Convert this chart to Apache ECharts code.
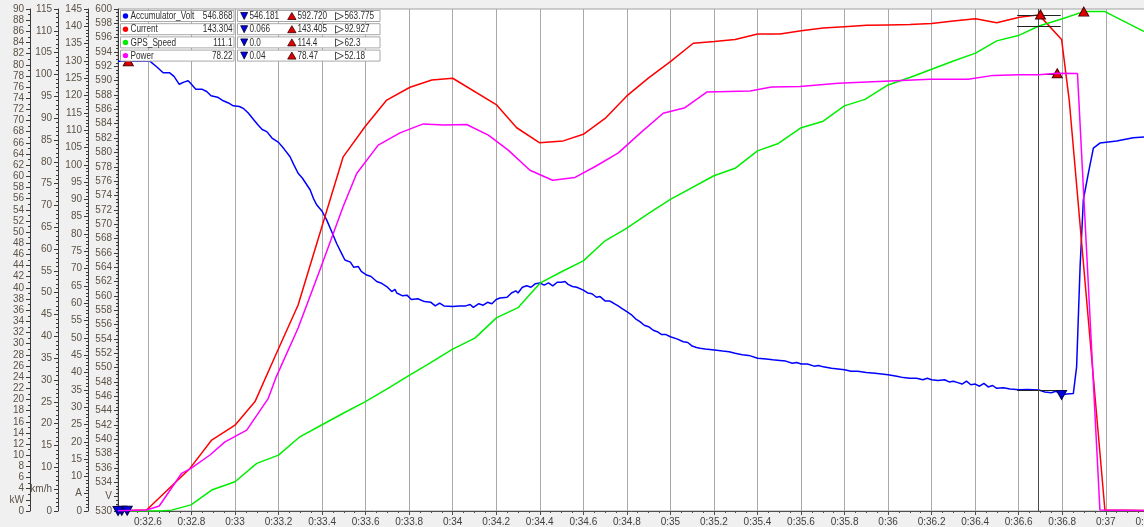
<!DOCTYPE html>
<html>
<head>
<meta charset="utf-8">
<title>Accumulator / Current / GPS Speed / Power</title>
<script src="https://cdn.jsdelivr.net/npm/echarts@6/dist/echarts.min.js"></script>
<style>
  html, body { margin: 0; padding: 0; background: #f0f0f0; }
  #chart { width: 1144px; height: 527px; }
</style>
</head>
<body>
<div id="chart"></div>
<script>
// ---- logged channels: [time in s, value] ----
const voltPoints = [
  [32.463, 592.72], [32.51, 592.72], [32.61, 592.7], [32.64, 591.95], [32.67, 591.1], [32.70, 591.1],
  [32.72, 590.6], [32.744, 589.5], [32.765, 589.8], [32.785, 590.0], [32.80, 589.5], [32.82, 588.8],
  [32.85, 588.8], [32.87, 588.5], [32.89, 587.9], [32.92, 587.7], [32.946, 587.2], [32.97, 586.9],
  [32.992, 586.5], [33.02, 586.4], [33.04, 586.1], [33.061, 585.5], [33.085, 584.6], [33.107, 583.8],
  [33.125, 583.2], [33.146, 582.9], [33.17, 582.0], [33.2, 581.4], [33.225, 580.5], [33.253, 579.4],
  [33.27, 578.3], [33.29, 577.1], [33.31, 576.4], [33.345, 574.8], [33.36, 573.6], [33.375, 572.7],
  [33.40, 571.8], [33.421, 570.6], [33.445, 568.9], [33.467, 567.3], [33.49, 565.9], [33.505, 565.0],
  [33.53, 564.7], [33.545, 564.0], [33.566, 564.1], [33.58, 563.4], [33.605, 562.9], [33.625, 562.7],
  [33.651, 562.0], [33.67, 561.8], [33.697, 561.3], [33.72, 560.6], [33.735, 560.9], [33.743, 560.4],
  [33.77, 560.0], [33.79, 560.1], [33.81, 559.5], [33.84, 559.6], [33.87, 559.2], [33.90, 559.1],
  [33.92, 558.6], [33.94, 559.0], [33.96, 558.6], [34.00, 558.5], [34.03, 558.6], [34.06, 558.6],
  [34.08, 558.8], [34.095, 558.4], [34.12, 558.9], [34.14, 558.7], [34.16, 559.1], [34.18, 558.9],
  [34.20, 559.5], [34.217, 559.7], [34.25, 559.8], [34.27, 560.4], [34.29, 560.7], [34.30, 560.4],
  [34.32, 561.2], [34.34, 561.4], [34.36, 561.2], [34.38, 561.7], [34.40, 561.8], [34.42, 561.5],
  [34.44, 561.8], [34.46, 561.4], [34.48, 561.9], [34.50, 561.9], [34.516, 562.0], [34.53, 561.6],
  [34.55, 561.3], [34.57, 561.2], [34.60, 560.8], [34.62, 560.4], [34.64, 560.3], [34.66, 559.8],
  [34.677, 559.9], [34.70, 559.3], [34.72, 559.3], [34.738, 559.0], [34.76, 558.6], [34.78, 558.2],
  [34.80, 557.8], [34.82, 557.4], [34.84, 556.8], [34.86, 556.4], [34.88, 555.9], [34.90, 555.7],
  [34.921, 555.2], [34.94, 555.0], [34.96, 554.6], [34.98, 554.6], [35.0, 554.3], [35.03, 554.0],
  [35.059, 553.6], [35.08, 553.5], [35.10, 553.0], [35.12, 552.8], [35.136, 552.7], [35.16, 552.6],
  [35.202, 552.45], [35.24, 552.3], [35.27, 552.2], [35.297, 552.0], [35.33, 551.8], [35.36, 551.7],
  [35.401, 551.3], [35.44, 551.2], [35.47, 551.1], [35.503, 551.0], [35.53, 550.9], [35.56, 550.6],
  [35.58, 550.7], [35.601, 550.5], [35.63, 550.5], [35.66, 550.2], [35.68, 550.3], [35.702, 550.1],
  [35.74, 549.9], [35.77, 549.8], [35.80, 549.7], [35.83, 549.5], [35.86, 549.5], [35.90, 549.3],
  [35.94, 549.2], [35.97, 549.1], [36.0, 549.0], [36.04, 548.8], [36.07, 548.6], [36.1, 548.5],
  [36.13, 548.5], [36.16, 548.3], [36.18, 548.5], [36.2, 548.3], [36.23, 548.2], [36.26, 548.3],
  [36.28, 548.0], [36.3, 548.1], [36.32, 547.9], [36.34, 547.7], [36.36, 548.1], [36.38, 547.6],
  [36.40, 547.7], [36.42, 547.4], [36.44, 547.8], [36.46, 547.3], [36.48, 547.5], [36.499, 547.1],
  [36.53, 547.2], [36.56, 547.0], [36.603, 546.9], [36.64, 546.95], [36.693, 546.868], [36.72, 546.6],
  [36.75, 546.5], [36.77, 546.7], [36.797, 546.181], [36.82, 546.3], [36.851, 546.4], [36.866, 550.1],
  [36.882, 564.1], [36.897, 573.4], [36.92, 577.1], [36.943, 580.6], [36.973, 581.3], [37.05, 581.6],
  [37.126, 582.05], [37.21, 582.2]
];

const currentPoints = [
  [32.463, 0.07], [32.594, 0.3], [32.793, 12.3], [32.893, 20.5], [33.0, 24.8], [33.092, 31.6],
  [33.19, 45.5], [33.29, 59.5], [33.39, 80.2], [33.497, 102.3], [33.597, 111.0], [33.697, 118.7],
  [33.804, 122.4], [33.904, 124.5], [34.0, 125.0], [34.202, 117.3], [34.294, 110.7], [34.398, 106.4],
  [34.508, 106.9], [34.6, 108.8], [34.70, 113.4], [34.8, 119.9], [34.9, 125.1], [35.0, 129.8],
  [35.105, 135.1], [35.202, 135.6], [35.297, 136.2], [35.401, 137.8], [35.503, 137.8], [35.601, 138.7],
  [35.702, 139.5], [35.799, 139.9], [35.902, 140.3], [36.0, 140.4], [36.1, 140.5], [36.2, 140.8],
  [36.3, 141.5], [36.402, 142.2], [36.499, 141.0], [36.603, 142.6], [36.693, 143.304], [36.70, 143.405],
  [36.797, 136.2], [36.832, 118.7], [36.996, 0.3], [37.21, 0.1]
];

const speedPoints = [
  [32.463, 0.0], [32.656, 0.0], [32.709, 0.2], [32.798, 1.4], [32.893, 4.8], [33.0, 6.7],
  [33.1, 10.9], [33.2, 12.8], [33.298, 17.0], [33.398, 19.7], [33.497, 22.4], [33.597, 25.0],
  [33.697, 27.9], [33.804, 31.2], [33.88, 33.4], [34.0, 37.1], [34.102, 39.6], [34.202, 44.3],
  [34.301, 46.6], [34.401, 52.2], [34.5, 54.8], [34.6, 57.3], [34.70, 61.9], [34.8, 64.8],
  [34.9, 68.2], [35.0, 71.4], [35.2, 76.8], [35.297, 78.5], [35.4, 82.5], [35.496, 84.2],
  [35.601, 87.8], [35.702, 89.3], [35.799, 92.8], [35.894, 94.3], [36.0, 97.6], [36.1, 99.3],
  [36.2, 101.2], [36.3, 103.1], [36.402, 104.9], [36.499, 107.7], [36.603, 109.0], [36.693, 111.1],
  [36.797, 112.7], [36.899, 114.4], [36.996, 114.4], [37.17, 110.0], [37.21, 109.1]
];

const powerPoints = [
  [32.463, 0.04], [32.594, 0.18], [32.652, 0.9], [32.755, 6.76], [32.798, 7.65], [32.885, 10.04],
  [32.954, 12.4], [33.054, 14.5], [33.153, 20.2], [33.19, 24.1], [33.29, 32.8], [33.39, 43.2],
  [33.497, 54.6], [33.559, 60.5], [33.658, 65.6], [33.758, 67.8], [33.865, 69.4], [33.957, 69.2],
  [34.064, 69.3], [34.164, 67.4], [34.255, 64.7], [34.355, 61.1], [34.459, 59.3], [34.562, 59.8],
  [34.661, 61.9], [34.761, 64.2], [34.860, 67.7], [34.967, 71.3], [35.067, 72.3], [35.167, 75.1],
  [35.366, 75.3], [35.465, 76.0], [35.595, 76.1], [35.771, 76.7], [36.009, 77.1], [36.193, 77.4],
  [36.368, 77.4], [36.483, 78.1], [36.60, 78.2], [36.693, 78.22], [36.777, 78.47], [36.87, 78.45],
  [36.973, 0.18], [37.21, 0.1]
];

// ---- channel table: names, cursor readout, min / max / average ----
const channelNames = ['Accumulator_Volt', 'Current', 'GPS_Speed', 'Power'];
const channelUnits = ['V', 'A', 'km/h', 'kW'];
const cursorValues = [546.868, 143.304, 111.1, 78.22];
const minValues = [546.181, 0.066, 0.0, 0.04];
const maxValues = [592.720, 143.405, 114.4, 78.47];
const avgValues = [563.775, 92.927, 62.3, 52.18];
const decimals = [3, 3, 1, 2];
const minTimes = [36.797, 32.48, 32.463, 32.505];
const maxTimes = [32.51, 36.70, 36.899, 36.777];
const cursorTime = 36.693;

// axis scales for each channel: [min, max, step]
const axisRanges = [[530, 600, 2], [0, 145, 5], [0, 115, 5], [0, 90, 2]];

const seriesPoints = [voltPoints, currentPoints, speedPoints, powerPoints];
const colors = ['#0000ff', '#ff0000', '#00ee00', '#ff00ff'];

const FONT = '"Liberation Sans", Arial, sans-serif';
const fmtTime = v => {
  const r = Math.round(v * 10) / 10;
  return '0:' + (Math.abs(r - Math.round(r)) < 1e-9 ? Math.round(r).toString() : r.toFixed(1));
};

// y axes, one per channel, stacked to the left of the plot
const axisOffsets = [0, 30, 60, 88];
const minorSplits = [4, 5, 5, 2];
const yAxes = axisRanges.map((r, i) => ({
  type: 'value',
  position: 'left',
  offset: axisOffsets[i],
  min: r[0], max: r[1], interval: r[2],
  axisLine: { show: true, lineStyle: { color: '#3a3a3a', width: 1 } },
  axisTick: { show: true, length: 4, lineStyle: { color: '#3a3a3a' } },
  minorTick: { show: true, splitNumber: minorSplits[i], length: 2, lineStyle: { color: '#3a3a3a' } },
  splitLine: { show: false },
  axisLabel: {
    margin: 6, fontSize: 10, fontFamily: FONT, color: '#5c5346',
    formatter: v => (Math.abs(v - (r[0] + r[2])) < 1e-9 ? channelUnits[i] : String(v))
  }
}));

// channel series with extreme-value markers and cursor readout ticks
const series = seriesPoints.map((pts, i) => {
  const s = {
    name: channelNames[i],
    type: 'line',
    yAxisIndex: i,
    data: pts,
    showSymbol: false,
    symbol: 'none',
    lineStyle: { color: colors[i], width: 1.5 },
    itemStyle: { color: colors[i] },
    z: 2 + i,
    markPoint: {
      silent: true,
      label: { show: false },
      data: [
        { coord: [maxTimes[i], maxValues[i]], symbol: 'triangle', symbolSize: [10, 9],
          itemStyle: { color: '#e00000', borderColor: '#4a0000', borderWidth: 1 } },
        { coord: [minTimes[i], minValues[i]], symbol: 'triangle', symbolSize: [10, 9], symbolRotate: 180,
          itemStyle: { color: '#0000e0', borderColor: '#00004a', borderWidth: 1 } }
      ]
    },
    markLine: {
      silent: true,
      symbol: ['none', 'none'],
      label: { show: false },
      lineStyle: { color: '#202020', width: 1, type: 'solid' },
      data: [[
        { coord: [cursorTime - 0.1, cursorValues[i]] },
        { coord: [cursorTime + 0.1, cursorValues[i]] }
      ]]
    }
  };
  if (i === 0) {
    s.markLine.data.push({ xAxis: cursorTime, lineStyle: { color: '#4a4a4a', width: 1, type: 'solid' } });
  }
  return s;
});

// channel table in the top-left corner of the plot, drawn above everything else
const TABLE_Z = 100;
const tableItems = [];
const rowTop = 10.5, rowStep = 13.2, rowH = 11;
const textFont = '10px "Liberation Sans", Arial, sans-serif';
const cellText = (x, y, text, align) => ({
  type: 'text', x: x, y: y, scaleX: 0.82, z: TABLE_Z + 2,
  style: { x: 0, y: 0, text: text, font: textFont, fill: '#2e2e2e', align: align || 'left', verticalAlign: 'middle' }
});
channelNames.forEach((name, i) => {
  const y = rowTop + i * rowStep;
  const cy = y + rowH / 2 + 0.5;
  tableItems.push(
    { type: 'rect', z: TABLE_Z, shape: { x: 120.5, y: y, width: 113.5, height: rowH },
      style: { fill: '#ffffff', stroke: '#a8a8a8', lineWidth: 1 } },
    { type: 'rect', z: TABLE_Z, shape: { x: 237.5, y: y, width: 142.5, height: rowH },
      style: { fill: '#ffffff', stroke: '#a8a8a8', lineWidth: 1 } },
    { type: 'circle', z: TABLE_Z + 1, shape: { cx: 125.5, cy: y + rowH / 2, r: 2.7 }, style: { fill: colors[i] } },
    cellText(130.5, cy, name),
    cellText(232.5, cy, cursorValues[i].toFixed(decimals[i]), 'right'),
    { type: 'polygon', z: TABLE_Z + 1, shape: { points: [[240.7, y + 2], [247.7, y + 2], [244.2, y + 9]] },
      style: { fill: '#0000e0', stroke: '#00003a', lineWidth: 0.8 } },
    cellText(249.5, cy, minValues[i].toFixed(decimals[i])),
    { type: 'polygon', z: TABLE_Z + 1, shape: { points: [[287.7, y + 9], [296, y + 9], [291.85, y + 2]] },
      style: { fill: '#e00000', stroke: '#3a0000', lineWidth: 0.8 } },
    cellText(297.5, cy, maxValues[i].toFixed(decimals[i])),
    { type: 'polygon', z: TABLE_Z + 1, shape: { points: [[335.5, y + 2], [335.5, y + 9.5], [343.3, y + 5.75]] },
      style: { fill: '#ffffff', stroke: '#202020', lineWidth: 0.8 } },
    cellText(344.5, cy, avgValues[i].toFixed(decimals[i]))
  );
});

const chart = echarts.init(document.getElementById('chart'), null, { renderer: 'canvas' });
chart.setOption({
  animation: false,
  backgroundColor: '#f0f0f0',
  grid: {
    left: 118, right: -7.5, top: 9, bottom: 16,
    containLabel: false,
    outerBoundsMode: 'none',
    show: true, backgroundColor: '#ffffff', borderColor: '#a0a0a0', borderWidth: 1
  },
  xAxis: {
    type: 'value',
    min: 32.4626, max: 37.21,
    minInterval: 0.2, maxInterval: 0.2,
    axisLine: { show: true, onZero: false, lineStyle: { color: '#505050' } },
    axisTick: { show: true, length: 4, lineStyle: { color: '#505050' } },
    minorTick: { show: true, splitNumber: 4, length: 2, lineStyle: { color: '#505050' } },
    splitLine: { show: true, lineStyle: { color: '#a8a8a8', width: 1 } },
    axisLabel: {
      margin: 6, fontSize: 10, fontFamily: FONT, color: '#404040',
      showMinLabel: false, showMaxLabel: false,
      formatter: fmtTime
    }
  },
  yAxis: yAxes,
  series: series,
  graphic: [{ type: 'group', z: TABLE_Z, children: tableItems }]
});
</script>
</body>
</html>
